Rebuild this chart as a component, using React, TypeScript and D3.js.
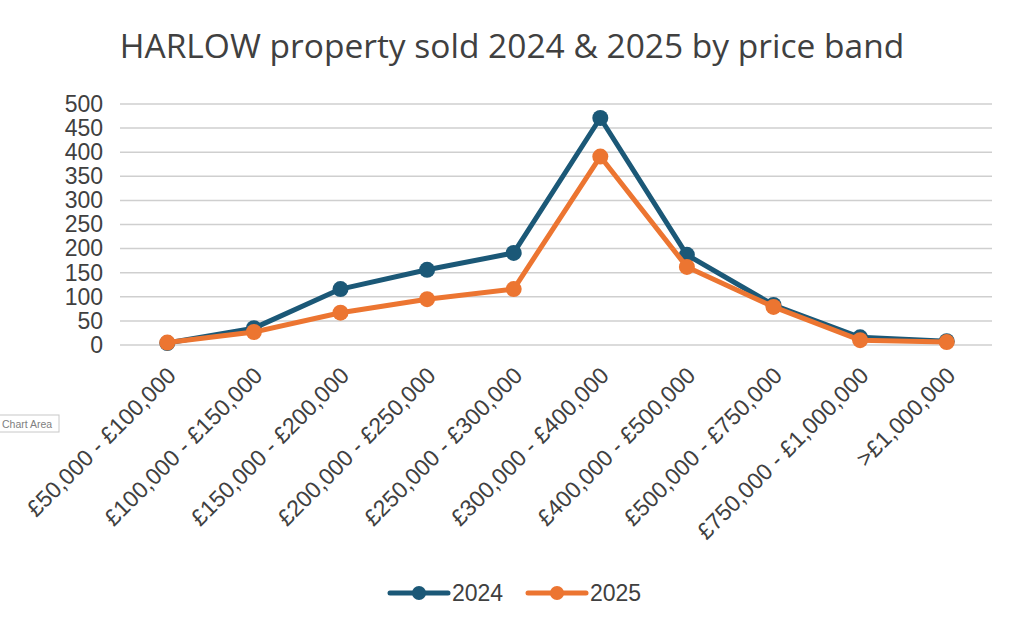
import React, { useEffect, useRef } from 'react';
import * as d3 from 'd3';

const bands = [
    '£50,000 - £100,000',
    '£100,000 - £150,000',
    '£150,000 - £200,000',
    '£200,000 - £250,000',
    '£250,000 - £300,000',
    '£300,000 - £400,000',
    '£400,000 - £500,000',
    '£500,000 - £750,000',
    '£750,000 - £1,000,000',
    '>£1,000,000',
];
const sold2024 = [4, 35, 116, 156, 191, 471, 187, 83, 16, 8];
const sold2025 = [5, 27, 67, 95, 116, 391, 162, 79, 10, 6];
const yTicks = [0, 50, 100, 150, 200, 250, 300, 350, 400, 450, 500];

const series = [
    { name: '2024', values: sold2024, color: '#1b5877' },
    { name: '2025', values: sold2025, color: '#ec7531' },
];

const App: React.FC = () => {
    const ref = useRef<SVGSVGElement>(null);

    useEffect(() => {
        const svg = d3.select(ref.current);
        svg.selectAll('*').remove();

        const width = 1024;
        const height = 633;
        const plot = { left: 124, right: 990, top: 104, bottom: 345 };

        svg.append('rect').attr('width', width).attr('height', height).attr('fill', '#fff');

        svg.append('text')
            .attr('x', 512)
            .attr('y', 58)
            .attr('text-anchor', 'middle')
            .attr('font-family', 'Open Sans, sans-serif')
            .attr('font-size', 33.5)
            .attr('fill', '#404040')
            .text('HARLOW property sold 2024 & 2025 by price band');

        const x = d3.scaleBand().domain(bands).range([plot.left, plot.right]);
        const y = d3.scaleLinear().domain([0, 500]).range([plot.bottom, plot.top]);

        // gridlines
        svg.append('g')
            .selectAll('line')
            .data(yTicks)
            .enter().append('line')
            .attr('x1', plot.left - 4)
            .attr('x2', plot.right + 2)
            .attr('y1', d => y(d))
            .attr('y2', d => y(d))
            .attr('stroke', '#cfcfcf')
            .attr('stroke-width', 1.5);

        // y axis labels
        const yAxis = svg.append('g')
            .attr('transform', `translate(${plot.left - 21},0)`)
            .call(d3.axisLeft(y).tickValues(yTicks).tickSize(0).tickPadding(0));
        yAxis.select('.domain').remove();
        yAxis.selectAll('text')
            .attr('font-family', 'Liberation Sans, Arial, sans-serif')
            .attr('font-size', 23)
            .attr('fill', '#404040');

        // x axis labels
        const xAxis = svg.append('g')
            .attr('transform', `translate(0,${plot.bottom})`)
            .call(d3.axisBottom(x).tickSize(0).tickPadding(0));
        xAxis.select('.domain').remove();
        xAxis.selectAll('text')
            .attr('font-family', 'Liberation Sans, Arial, sans-serif')
            .attr('font-size', 23)
            .attr('fill', '#404040')
            .attr('text-anchor', 'end')
            .attr('dy', 0)
            .attr('transform', 'translate(10,32) rotate(-45)');

        const cx = (i: number) => (x(bands[i]) as number) + x.bandwidth() / 2;
        const line = d3.line<number>().x((_, i) => cx(i)).y(d => y(d));

        series.forEach(s => {
            svg.append('path')
                .datum(s.values)
                .attr('d', line)
                .attr('fill', 'none')
                .attr('stroke', s.color)
                .attr('stroke-width', 5)
                .attr('stroke-linejoin', 'round');
            svg.append('g')
                .selectAll('circle')
                .data(s.values)
                .enter().append('circle')
                .attr('cx', (_, i) => cx(i))
                .attr('cy', d => y(d))
                .attr('r', 8)
                .attr('fill', s.color);
        });

        // legend
        const legend = svg.append('g').attr('transform', 'translate(388,593)');
        series.forEach((s, i) => {
            const g = legend.append('g').attr('transform', `translate(${i * 138},0)`);
            g.append('line')
                .attr('x1', 2).attr('x2', 60)
                .attr('stroke', s.color)
                .attr('stroke-width', 5)
                .attr('stroke-linecap', 'round');
            g.append('circle').attr('cx', 31).attr('r', 7).attr('fill', s.color);
            g.append('text')
                .attr('x', 64)
                .attr('y', 8)
                .attr('font-family', 'Liberation Sans, Arial, sans-serif')
                .attr('font-size', 23)
                .attr('fill', '#404040')
                .text(s.name);
        });

        // "Chart Area" tooltip
        const tip = svg.append('g').attr('transform', 'translate(0,415)');
        tip.append('rect')
            .attr('x', -1).attr('y', 0).attr('width', 60).attr('height', 17)
            .attr('fill', '#fff')
            .attr('stroke', '#c8c8c8');
        tip.append('text')
            .attr('x', 2).attr('y', 12.5)
            .attr('font-family', 'Liberation Sans, Arial, sans-serif')
            .attr('font-size', 10.5)
            .attr('fill', '#808080')
            .text('Chart Area');
    }, []);

    return (
        <svg
            ref={ref}
            width={1024}
            height={633}
            style={{ position: 'absolute', left: 0, top: 0, display: 'block' }}
        />
    );
};

export default App;
